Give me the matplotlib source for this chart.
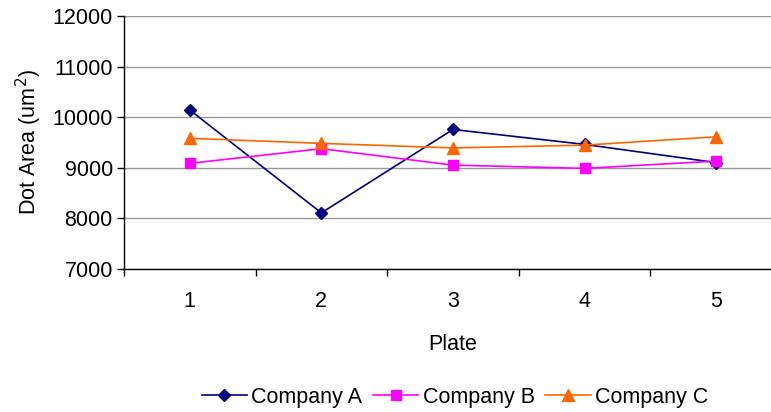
import matplotlib
matplotlib.use("Agg")
import matplotlib.pyplot as plt

plt.rcParams['font.family'] = ['Liberation Sans', 'DejaVu Sans']

plates = [1, 2, 3, 4, 5]
company_a = [10140, 8105, 9755, 9460, 9100]
company_b = [9085, 9375, 9050, 8985, 9130]
company_c = [9580, 9480, 9390, 9445, 9610]
y_ticks = [7000, 8000, 9000, 10000, 11000, 12000]

fs = 15.5

fig = plt.figure(figsize=(7.71, 4.12), dpi=100)
# axes run a little past the right edge of the figure
ax = fig.add_axes([0.1608, 0.3478, 0.8534, 0.6133])

ax.plot(plates, company_a, color='#000080', marker='D', markersize=6.5,
        linewidth=1.2, label='Company A')
ax.plot(plates, company_b, color='#FF00FF', marker='s', markersize=7,
        linewidth=1.2, label='Company B')
ax.plot(plates, company_c, color='#FF6600', marker='^', markersize=9,
        linewidth=1.2, label='Company C')

ax.set_xlim(0.5, 5.5)
ax.set_ylim(7000, 12000)
ax.set_yticks(y_ticks)
ax.set_xticks(plates)
ax.set_xticks([0.5, 1.5, 2.5, 3.5, 4.5, 5.5], minor=True)
ax.tick_params(axis='x', which='major', length=0, pad=16, labelsize=fs)
ax.tick_params(axis='x', which='minor', length=5, width=1, direction='out')
ax.tick_params(axis='y', length=5, width=1, direction='out', pad=3, labelsize=fs)

ax.grid(axis='y', color='#999999', linewidth=1)
ax.set_axisbelow(True)
for side in ['top', 'right']:
    ax.spines[side].set_visible(False)
for side in ['left', 'bottom']:
    ax.spines[side].set_color('black')
    ax.spines[side].set_linewidth(1)

ax.set_xlabel('Plate', fontsize=fs, labelpad=16)
ax.set_ylabel('Dot Area (um$^2$)', fontsize=fs, labelpad=6)

fig.legend(loc='center', bbox_to_anchor=(455 / 771, 1 - 397 / 412), ncol=3,
           frameon=False, fontsize=fs, handlelength=2.1, handletextpad=0.2,
           columnspacing=0.5)

fig.savefig('out.png', dpi=100)
